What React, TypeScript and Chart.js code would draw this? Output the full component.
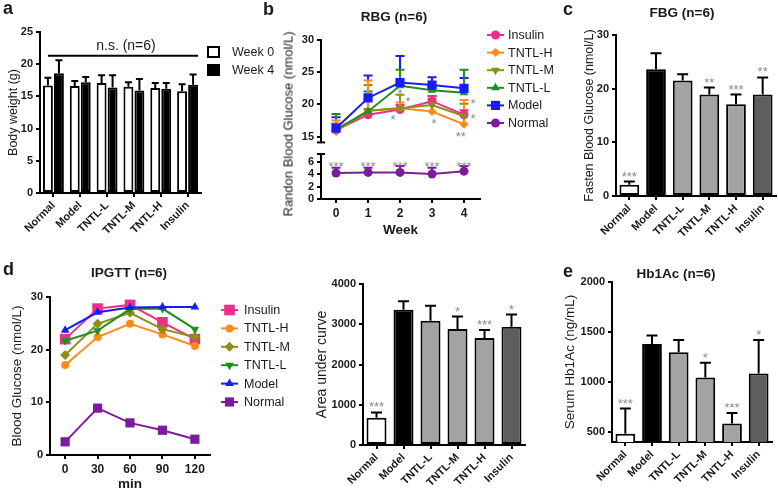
import React, { useEffect, useRef } from 'react';
import { Chart, registerables } from 'chart.js';

Chart.register(...registerables);

const FONT = "'Liberation Sans', Arial, Helvetica, sans-serif";
const INK = '#1a1a1a';
const STAR = '#8a8a8a';

// ================= DATA =================
const groups = ['Normal', 'Model', 'TNTL-L', 'TNTL-M', 'TNTL-H', 'Insulin'];

// (a) body weight, g  (mean and mean+SD)
const bwWeek0 = [16.7, 16.6, 17.1, 16.5, 16.3, 15.8];
const bwWeek0Upper = [17.9, 17.4, 18.3, 17.2, 17.1, 16.9];
const bwWeek4 = [18.6, 17.2, 16.4, 15.9, 16.2, 16.8];
const bwWeek4Upper = [20.6, 18.0, 18.3, 17.7, 17.1, 18.4];
const bwTicks = [0, 5, 10, 15, 20, 25];
const bwNsLevel = 21.3;
const bwNsLabel = 'n.s. (n=6)';

// (b) random blood glucose, nmol/L
const weeks = [0, 1, 2, 3, 4];
const rbgInsulin = [16.0, 18.4, 19.2, 20.5, 18.4];
const rbgInsulinUpper = [17.0, 19.3, 19.9, 21.3, 19.1];
const rbgTntlH = [15.8, 19.0, 19.4, 18.9, 16.9];
const rbgTntlHUpper = [17.5, 23.7, 20.3, 21.3, 20.7];
const rbgTntlM = [16.0, 19.0, 19.4, 19.9, 18.2];
const rbgTntlMUpper = [17.0, 23.0, 21.5, 20.9, 20.1];
const rbgTntlL = [16.1, 18.9, 22.9, 22.2, 21.8];
const rbgTntlLUpper = [18.5, 22.0, 25.4, 22.7, 25.4];
const rbgModel = [16.3, 21.0, 23.4, 23.0, 22.5];
const rbgModelUpper = [18.0, 24.5, 27.5, 24.2, 24.1];
const rbgNormal = [4.15, 4.25, 4.25, 4.0, 4.45];
const rbgNormalUpper = [5.0, 5.0, 5.3, 5.0, 5.3];
const rbgUpperTicks = [15, 20, 25, 30];
const rbgLowerTicks = [0, 2, 4, 6];
const rbgStarWeek = [1.78, 2.25, 2.0, 3.06, 3.9, 4.28, 4.28];
const rbgStarLevel = [18.1, 20.9, 22.1, 17.5, 15.5, 20.6, 18.2];
const rbgStarText = ['*', '*', '*', '*', '**', '*', '*'];
const rbgNormalStarText = ['***', '***', '***', '***', '***'];
const rbgNormalStarLevel = [5.7, 5.7, 5.7, 5.7, 5.7];

// (c) fasting blood glucose
const fbgMean = [2.1, 23.6, 21.5, 18.9, 17.1, 18.9];
const fbgUpper = [2.7, 26.6, 22.7, 20.2, 18.9, 22.1];
const fbgStars = ['***', '', '', '**', '***', '**'];
const fbgTicks = [0, 10, 20, 30];

// (d) IPGTT
const minutes = [0, 30, 60, 90, 120];
const ipInsulin = [22.0, 27.8, 28.5, 25.2, 22.0];
const ipTntlH = [17.1, 22.4, 24.9, 22.9, 20.7];
const ipTntlM = [19.0, 24.9, 27.0, 23.9, 22.4];
const ipTntlL = [21.7, 23.6, 27.7, 27.8, 23.9];
const ipModel = [23.7, 27.1, 28.0, 28.1, 28.1];
const ipNormal = [2.5, 8.9, 6.1, 4.7, 3.0];
const ipYTicks = [0, 10, 20, 30];

const aucMean = [680, 3360, 3090, 2880, 2660, 2940];
const aucUpper = [810, 3570, 3460, 3190, 2860, 3240];
const aucStars = ['***', '', '', '*', '***', '*'];
const aucTicks = [0, 1000, 2000, 3000, 4000];

// (e) serum Hb1Ac
const hbMean = [483, 1381, 1297, 1046, 584, 1086];
const hbUpper = [734, 1464, 1421, 1193, 691, 1421];
const hbStars = ['***', '', '', '*', '***', '*'];
const hbTicks = [500, 1000, 1500, 2000];

// ================= STYLES =================
const legendOrder = ['Insulin', 'TNTL-H', 'TNTL-M', 'TNTL-L', 'Model', 'Normal'];
const drawOrder = ['Model', 'TNTL-L', 'TNTL-M', 'TNTL-H', 'Insulin', 'Normal'];
const seriesColor: any = {
  Insulin: '#ee2f8a',
  'TNTL-H': '#ff8c1a',
  'TNTL-M': '#8e8e14',
  'TNTL-L': '#1f8f1f',
  Model: '#1a1aff',
  Normal: '#7b1c9e',
};
const rbgShape: any = {
  Insulin: ['circle', 4.5, 0],
  'TNTL-H': ['rectRot', 4.5, 0],
  'TNTL-M': ['triangle', 5, 180],
  'TNTL-L': ['triangle', 5, 0],
  Model: ['rect', 6.5, 0],
  Normal: ['circle', 4.5, 0],
};
const ipShape: any = {
  Insulin: ['rect', 7.5, 0],
  'TNTL-H': ['circle', 4, 0],
  'TNTL-M': ['rectRot', 5, 0],
  'TNTL-L': ['triangle', 5, 180],
  Model: ['triangle', 5, 0],
  Normal: ['rect', 6.5, 0],
};
const barFill = ['#ffffff', '#000000', '#a3a3a3', '#a3a3a3', '#a3a3a3', '#5e5e5e'];

const rbgMeans: any = { Insulin: rbgInsulin, 'TNTL-H': rbgTntlH, 'TNTL-M': rbgTntlM, 'TNTL-L': rbgTntlL, Model: rbgModel, Normal: rbgNormal };
const rbgUppers: any = { Insulin: rbgInsulinUpper, 'TNTL-H': rbgTntlHUpper, 'TNTL-M': rbgTntlMUpper, 'TNTL-L': rbgTntlLUpper, Model: rbgModelUpper, Normal: rbgNormalUpper };
const ipMeans: any = { Insulin: ipInsulin, 'TNTL-H': ipTntlH, 'TNTL-M': ipTntlM, 'TNTL-L': ipTntlL, Model: ipModel, Normal: ipNormal };

// ================= HELPERS =================
type Frame = { x: number; y: number; w: number; h: number; l: number; t: number; r: number; b: number };

const tickFont = { family: FONT, size: 11, weight: 'bold' as const };
const axisBorder = { display: true, color: '#000', width: 2 };
const tickGrid = { display: true, drawOnChartArea: false, drawTicks: true, tickLength: 4, color: '#000', lineWidth: 2 };
const plainNumber = (v: any) => String(v);

function layoutFor(f: Frame, xShown: boolean) {
  return {
    autoPadding: false,
    padding: { left: 0, top: f.t - f.y, right: f.x + f.w - f.r, bottom: xShown ? 0 : f.y + f.h - f.b },
  };
}

function yLin(f: Frame, min: number, max: number, ticks: number[], title?: any) {
  return {
    type: 'linear',
    position: 'left',
    min,
    max,
    afterBuildTicks: (s: any) => {
      s.ticks = ticks.map((v) => ({ value: v }));
    },
    afterFit: (s: any) => {
      s.width = f.l - f.x;
    },
    grid: tickGrid,
    border: axisBorder,
    ticks: { font: tickFont, color: INK, padding: 3, autoSkip: false, callback: plainNumber },
    title: title
      ? {
          display: true,
          text: title.text,
          color: INK,
          font: { family: FONT, size: title.size },
          padding: { top: title.center - f.x - title.size * 0.6, bottom: 0 },
        }
      : { display: false },
  };
}

function xCat(f: Frame) {
  return {
    type: 'category',
    offset: true,
    afterFit: (s: any) => {
      s.height = f.y + f.h - f.b;
    },
    grid: { ...tickGrid, offset: false },
    border: axisBorder,
    ticks: { font: tickFont, color: INK, autoSkip: false, minRotation: 45, maxRotation: 45, padding: 2 },
  };
}

function xLin(f: Frame, min: number, max: number, ticks: number[], show: boolean, title?: any) {
  return {
    type: 'linear',
    position: 'bottom',
    min,
    max,
    display: show,
    afterBuildTicks: (s: any) => {
      s.ticks = ticks.map((v) => ({ value: v }));
    },
    afterFit: (s: any) => {
      if (show) s.height = f.y + f.h - f.b;
    },
    grid: tickGrid,
    border: axisBorder,
    ticks: { font: { family: FONT, size: 12, weight: 'bold' as const }, color: INK, padding: 3, autoSkip: false, callback: plainNumber },
    title: title
      ? {
          display: true,
          text: title.text,
          color: INK,
          font: { family: FONT, size: title.size, weight: 'bold' as const },
          padding: { top: 0, bottom: f.y + f.h - title.center - title.size * 0.6 },
        }
      : { display: false },
  };
}

function drawMarker(ctx: CanvasRenderingContext2D, style: string, x: number, y: number, r: number, rotDeg: number, color: string) {
  ctx.beginPath();
  if (style === 'circle') {
    ctx.arc(x, y, r, 0, Math.PI * 2);
  } else if (style === 'rect') {
    const s = r * Math.SQRT1_2;
    ctx.rect(x - s, y - s, 2 * s, 2 * s);
  } else if (style === 'rectRot') {
    ctx.moveTo(x, y - r);
    ctx.lineTo(x + r, y);
    ctx.lineTo(x, y + r);
    ctx.lineTo(x - r, y);
    ctx.closePath();
  } else {
    let a = (rotDeg * Math.PI) / 180;
    ctx.moveTo(x + Math.sin(a) * r, y - Math.cos(a) * r);
    a += (2 * Math.PI) / 3;
    ctx.lineTo(x + Math.sin(a) * r, y - Math.cos(a) * r);
    a += (2 * Math.PI) / 3;
    ctx.lineTo(x + Math.sin(a) * r, y - Math.cos(a) * r);
    ctx.closePath();
  }
  ctx.fillStyle = color;
  ctx.fill();
}

// error bars (mean + SD) drawn under the marks
const errorBars = {
  id: 'errorBars',
  beforeDatasetsDraw(chart: any) {
    const ctx = chart.ctx;
    chart.data.datasets.forEach((ds: any, di: number) => {
      if (!ds.upper) return;
      const meta = chart.getDatasetMeta(di);
      const ys = chart.scales[meta.yAxisID];
      ctx.save();
      ctx.strokeStyle = ds.errColor || '#000';
      ctx.lineWidth = ds.errWidth || 2;
      meta.data.forEach((el: any, i: number) => {
        const u = ds.upper[i];
        if (u == null) return;
        const top = ys.getPixelForValue(u);
        const h = (ds.capWidth || 8) / 2;
        ctx.beginPath();
        ctx.moveTo(el.x, el.y);
        ctx.lineTo(el.x, top);
        ctx.moveTo(el.x - h, top);
        ctx.lineTo(el.x + h, top);
        ctx.stroke();
      });
      ctx.restore();
    });
  },
};

// significance stars above the error bars of bar charts
const barStars = {
  id: 'barStars',
  afterDatasetsDraw(chart: any) {
    const ctx = chart.ctx;
    chart.data.datasets.forEach((ds: any, di: number) => {
      if (!ds.stars) return;
      const meta = chart.getDatasetMeta(di);
      const ys = chart.scales[meta.yAxisID];
      ctx.save();
      ctx.fillStyle = STAR;
      ctx.font = `13px ${FONT}`;
      ctx.textAlign = 'center';
      ctx.textBaseline = 'alphabetic';
      meta.data.forEach((el: any, i: number) => {
        const s = ds.stars[i];
        if (!s) return;
        const top = ys.getPixelForValue(ds.upper[i]);
        ctx.fillText(s, el.x, top - 1);
      });
      ctx.restore();
    });
  },
};

Chart.register(errorBars, barStars);

function freeStars(xs: number[], ys: number[], texts: string[]) {
  return {
    id: 'freeStars',
    afterDatasetsDraw(chart: any) {
      const ctx = chart.ctx;
      ctx.save();
      ctx.fillStyle = STAR;
      ctx.font = `13px ${FONT}`;
      ctx.textAlign = 'center';
      ctx.textBaseline = 'alphabetic';
      xs.forEach((xv, i) => {
        const px = chart.scales.x.getPixelForValue(xv);
        const py = chart.scales.y.getPixelForValue(ys[i]);
        ctx.fillText(texts[i], px, py + 7.5);
      });
      ctx.restore();
    },
  };
}

function axisCap(where: 'top' | 'bottom') {
  return {
    id: 'axisCap',
    afterDraw(chart: any) {
      const a = chart.chartArea;
      const ctx = chart.ctx;
      const y = where === 'top' ? a.top : a.bottom;
      ctx.save();
      ctx.strokeStyle = '#000';
      ctx.lineWidth = 2;
      ctx.beginPath();
      ctx.moveTo(a.left - 4, y);
      ctx.lineTo(a.left + 4, y);
      ctx.stroke();
      ctx.restore();
    },
  };
}

function lineLegend(shapes: any, x0: number, x1: number, textX: number, y0: number, gap: number) {
  return {
    id: 'lineLegend',
    afterDraw(chart: any) {
      const ctx = chart.ctx;
      ctx.save();
      legendOrder.forEach((name, i) => {
        const y = y0 + i * gap;
        const c = seriesColor[name];
        const [st, r, rot] = shapes[name];
        ctx.strokeStyle = c;
        ctx.lineWidth = 2;
        ctx.beginPath();
        ctx.moveTo(x0, y);
        ctx.lineTo(x1, y);
        ctx.stroke();
        drawMarker(ctx, st, (x0 + x1) / 2, y, r, rot, c);
        ctx.fillStyle = INK;
        ctx.font = `12.5px ${FONT}`;
        ctx.textAlign = 'left';
        ctx.textBaseline = 'middle';
        ctx.fillText(name, textX, y + 0.5);
      });
      ctx.restore();
    },
  };
}

const boxLegend = {
  id: 'boxLegend',
  afterDraw(chart: any) {
    const ctx = chart.ctx;
    ctx.save();
    chart.data.datasets.forEach((ds: any, i: number) => {
      const y = 52 + i * 18;
      ctx.fillStyle = ds.backgroundColor;
      ctx.fillRect(208, y - 5, 11, 10);
      ctx.strokeStyle = '#000';
      ctx.lineWidth = 2;
      ctx.strokeRect(208, y - 5, 11, 10);
      ctx.fillStyle = INK;
      ctx.font = `12.5px ${FONT}`;
      ctx.textAlign = 'left';
      ctx.textBaseline = 'middle';
      ctx.fillText(ds.label, 232, y + 0.5);
    });
    ctx.restore();
  },
};

const nsLine = {
  id: 'nsLine',
  afterDatasetsDraw(chart: any) {
    const ctx = chart.ctx;
    const m0 = chart.getDatasetMeta(0).data;
    const m1 = chart.getDatasetMeta(1).data;
    const first = m0[0];
    const last = m1[m1.length - 1];
    const y = chart.scales.y.getPixelForValue(bwNsLevel);
    const x1 = first.x;
    const x2 = last.x + last.width / 2;
    ctx.save();
    ctx.strokeStyle = '#000';
    ctx.lineWidth = 2;
    ctx.beginPath();
    ctx.moveTo(x1, y);
    ctx.lineTo(x2, y);
    ctx.stroke();
    ctx.fillStyle = INK;
    ctx.font = `14px ${FONT}`;
    ctx.textAlign = 'center';
    ctx.textBaseline = 'alphabetic';
    ctx.fillText(bwNsLabel, (x1 + x2) / 2 + 3, y - 6);
    ctx.restore();
  },
};

const common = {
  responsive: false,
  animation: false,
  events: [],
};
const noPlugins = { legend: { display: false }, tooltip: { enabled: false }, title: { display: false } };

function lineDatasets(names: string[], xs: number[], means: any, uppers: any, shapes: any) {
  return names.map((name) => {
    const c = seriesColor[name];
    const [st, r, rot] = shapes[name];
    return {
      type: 'line',
      label: name,
      data: xs.map((x, i) => ({ x, y: means[name][i] })),
      borderColor: c,
      backgroundColor: c,
      pointBackgroundColor: c,
      pointBorderColor: c,
      pointBorderWidth: 0,
      pointStyle: st,
      pointRadius: r,
      pointRotation: rot,
      borderWidth: 2,
      tension: 0,
      fill: false,
      upper: uppers ? uppers[name] : undefined,
      errColor: c,
      errWidth: 2,
      capWidth: 9,
    };
  });
}

function barConfig(f: Frame, yMin: number, yMax: number, yTicks: number[], title: any, mean: number[], upper: number[], stars: string[]) {
  return {
    type: 'bar',
    data: {
      labels: groups,
      datasets: [
        {
          data: mean,
          upper,
          stars,
          backgroundColor: barFill,
          borderColor: '#000',
          borderWidth: 2,
          borderSkipped: false,
          capWidth: 11,
          categoryPercentage: 1,
          barPercentage: 0.74,
        },
      ],
    },
    options: {
      ...common,
      layout: layoutFor(f, true),
      plugins: noPlugins,
      scales: { x: xCat(f), y: yLin(f, yMin, yMax, yTicks, title) },
    },
  };
}

// ================= FRAMES =================
const fA: Frame = { x: 0, y: 0, w: 290, h: 250, l: 40, t: 32, r: 201, b: 193 };
const fB1: Frame = { x: 260, y: 0, w: 305, h: 152, l: 321, t: 40, r: 480, b: 143 };
const fB2: Frame = { x: 260, y: 140, w: 240, h: 106, l: 321, t: 154, r: 480, b: 199 };
const fC: Frame = { x: 560, y: 0, w: 218, h: 250, l: 616, t: 35, r: 776, b: 196 };
const fD1: Frame = { x: 0, y: 250, w: 290, h: 243, l: 50, t: 297, r: 210, b: 455 };
const fD2: Frame = { x: 290, y: 250, w: 240, h: 243, l: 363, t: 284, r: 525, b: 445 };
const fE: Frame = { x: 545, y: 250, w: 233, h: 243, l: 612, t: 282, r: 772, b: 442 };

// ================= CONFIGS =================
function configA() {
  return {
    type: 'bar',
    data: {
      labels: groups,
      datasets: [
        { label: 'Week 0', data: bwWeek0, upper: bwWeek0Upper, backgroundColor: '#ffffff', borderColor: '#000', borderWidth: 2, borderSkipped: false, capWidth: 7, categoryPercentage: 0.82, barPercentage: 0.9 },
        { label: 'Week 4', data: bwWeek4, upper: bwWeek4Upper, backgroundColor: '#000000', borderColor: '#000', borderWidth: 2, borderSkipped: false, capWidth: 7, categoryPercentage: 0.82, barPercentage: 0.9 },
      ],
    },
    options: {
      ...common,
      layout: layoutFor(fA, true),
      plugins: noPlugins,
      scales: { x: xCat(fA), y: yLin(fA, 0, 25, bwTicks, { text: 'Body weight (g)', size: 12.5, center: 13.5 }) },
    },
    plugins: [nsLine, boxLegend],
  };
}

function configB1() {
  const names = drawOrder.filter((n) => n !== 'Normal');
  return {
    type: 'line',
    data: { datasets: lineDatasets(names, weeks, rbgMeans, rbgUppers, rbgShape) },
    options: {
      ...common,
      layout: layoutFor(fB1, false),
      plugins: noPlugins,
      scales: { x: xLin(fB1, -0.47, 4.5, weeks, false), y: yLin(fB1, 14.1, 30, rbgUpperTicks) },
    },
    plugins: [freeStars(rbgStarWeek, rbgStarLevel, rbgStarText), axisCap('bottom'), lineLegend(rbgShape, 227, 244, 248, 35, 17.6)],
  };
}

function configB2() {
  return {
    type: 'line',
    data: { datasets: lineDatasets(['Normal'], weeks, rbgMeans, rbgUppers, rbgShape) },
    options: {
      ...common,
      layout: layoutFor(fB2, true),
      plugins: noPlugins,
      scales: {
        x: xLin(fB2, -0.47, 4.5, weeks, true, { text: 'Week', size: 13.5, center: 230 }),
        y: yLin(fB2, 0, 7.2, rbgLowerTicks),
      },
    },
    plugins: [freeStars(weeks, rbgNormalStarLevel, rbgNormalStarText), axisCap('top')],
  };
}

function configD1() {
  return {
    type: 'line',
    data: { datasets: lineDatasets(drawOrder, minutes, ipMeans, null, ipShape) },
    options: {
      ...common,
      layout: layoutFor(fD1, true),
      plugins: noPlugins,
      scales: {
        x: xLin(fD1, -14, 134, minutes, true, { text: 'min', size: 13.5, center: 484 }),
        y: yLin(fD1, 0, 30, ipYTicks, { text: 'Blood Glucose (nmol/L)', size: 13.5, center: 17.5 }),
      },
    },
    plugins: [lineLegend(ipShape, 221, 238, 244, 60, 18.4)],
  };
}

function ChartBox({ frame, make }: { frame: Frame; make: () => any }) {
  const ref = useRef<HTMLCanvasElement>(null);
  useEffect(() => {
    const chart = new Chart(ref.current as HTMLCanvasElement, make());
    return () => chart.destroy();
  }, []);
  return (
    <canvas
      ref={ref}
      width={frame.w}
      height={frame.h}
      style={{ position: 'absolute', left: frame.x, top: frame.y, width: frame.w, height: frame.h }}
    />
  );
}

function Txt({ x, y, size, bold, center, children }: any) {
  return (
    <div
      style={{
        position: 'absolute',
        left: x,
        top: y - 0.8465 * size,
        fontFamily: FONT,
        fontSize: size,
        fontWeight: bold ? 700 : 400,
        lineHeight: 1,
        whiteSpace: 'nowrap',
        color: INK,
        transform: center ? 'translateX(-50%)' : undefined,
      }}
    >
      {children}
    </div>
  );
}

export default function App() {
  return (
    <div style={{ position: 'absolute', left: 0, top: 0, width: 778, height: 493, background: '#fff', overflow: 'hidden' }}>
      <ChartBox frame={fA} make={configA} />
      <ChartBox frame={fB1} make={configB1} />
      <ChartBox frame={fB2} make={configB2} />
      <ChartBox
        frame={fC}
        make={() => barConfig(fC, 0, 30, fbgTicks, { text: 'Fasten Blood Glucose (nmol/L)', size: 12.5, center: 590 }, fbgMean, fbgUpper, fbgStars)}
      />
      <ChartBox frame={fD1} make={configD1} />
      <ChartBox
        frame={fD2}
        make={() => barConfig(fD2, 0, 4000, aucTicks, { text: 'Area under curve', size: 14, center: 322 }, aucMean, aucUpper, aucStars)}
      />
      <ChartBox
        frame={fE}
        make={() => barConfig(fE, 400, 2000, hbTicks, { text: 'Serum Hb1Ac (ng/mL)', size: 13.5, center: 570 }, hbMean, hbUpper, hbStars)}
      />

      <Txt x={3} y={14} size={18} bold>a</Txt>
      <Txt x={263} y={15} size={18} bold>b</Txt>
      <Txt x={563} y={15} size={18} bold>c</Txt>
      <Txt x={3} y={275} size={18} bold>d</Txt>
      <Txt x={563} y={277} size={18} bold>e</Txt>

      <Txt x={394} y={21} size={13.5} bold center>RBG (n=6)</Txt>
      <Txt x={682} y={17} size={13.5} bold center>FBG (n=6)</Txt>
      <Txt x={129} y={277} size={13.5} bold center>IPGTT (n=6)</Txt>
      <Txt x={676} y={278} size={13.5} bold center>Hb1Ac (n=6)</Txt>

      <div
        style={{
          position: 'absolute',
          left: 288,
          top: 124,
          transform: 'translate(-50%, -50%) rotate(-90deg)',
          fontFamily: FONT,
          fontSize: 13,
          lineHeight: 1,
          whiteSpace: 'nowrap',
          color: INK,
        }}
      >
        Randon Blood Glucose (nmol/L)
      </div>
    </div>
  );
}
